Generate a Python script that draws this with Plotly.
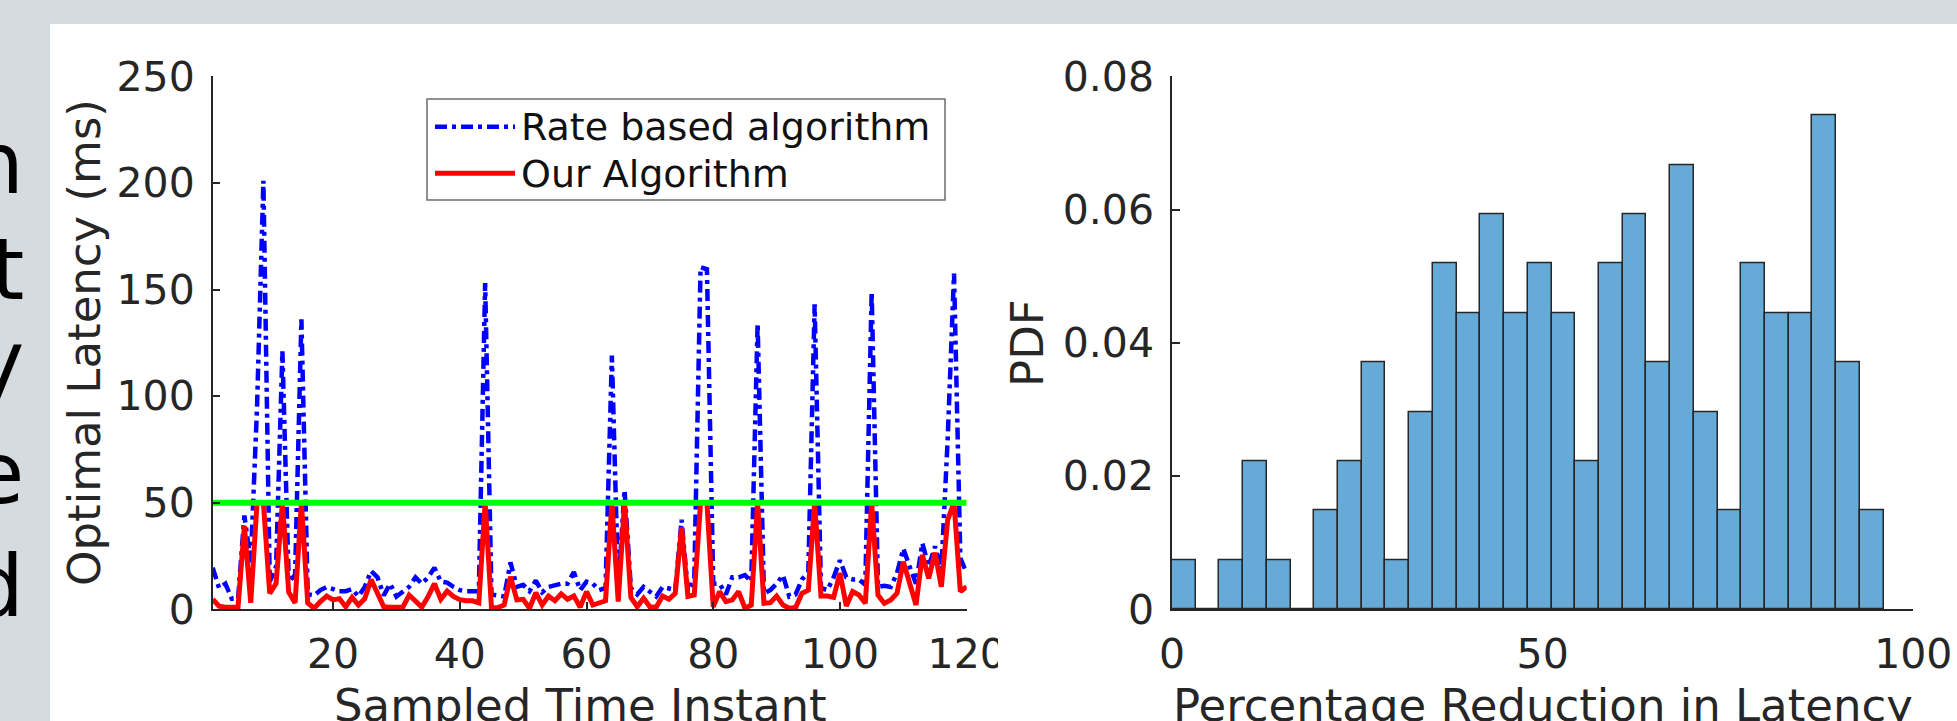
import plotly.graph_objects as go

W, H = 1957, 721

# ---------------- data ----------------
sample_index = list(range(1, 121))

rate_based = [
    19.5, 10, 12, 5, 5, 44, 22, 95, 201, 13,
    20, 121, 13, 16, 136, 7, 6.5, 9, 10.5, 9.5,
    8.5, 8.5, 9.5, 6, 10.5, 18, 15, 6.5, 12, 6,
    8.5, 10.5, 15, 12, 15, 19.5, 13, 12.5, 10.5, 9,
    8.5, 8.5, 8.5, 153, 7, 6.5, 6, 22, 10.5, 11.5,
    8.5, 13.5, 8, 10.5, 11.5, 12, 12, 17.5, 9, 13,
    12, 9, 10, 119, 10, 56, 10, 7, 10.5, 8.5,
    6, 10.5, 10, 9, 42, 8.5, 14, 160.5, 159.5, 12,
    12, 7, 15, 15, 16, 13, 134, 7.5, 9, 12,
    16, 6, 7, 14, 17.5, 143, 10, 9, 15, 23,
    15, 14, 14, 11.5, 149, 10.5, 11, 10.5, 17, 28.5,
    20, 12, 31, 20, 29.5, 18.5, 80, 157.5, 24, 17,
]

our_algorithm = [
    4.7, 1.5, 1, 1, 1, 39, 3, 50, 50, 7.5,
    12, 50, 8, 3, 50, 3, 0.5, 3.6, 6.2, 4.4,
    5, 1.2, 5.6, 2, 5, 14, 7.5, 1.2, 1, 1,
    1, 6.7, 3.6, 1, 6, 12, 4.7, 8.5, 6, 4.5,
    4, 4, 3, 50, 0.5, 0.8, 2, 15.3, 4.4, 4.7,
    0.5, 7.8, 2, 6.2, 4, 7.2, 4.7, 6.2, 1, 8.3,
    2, 2.8, 4, 50, 3.6, 50, 5.6, 1.2, 5.2, 1.2,
    1, 6.2, 4.7, 7.5, 38.4, 6, 6.7, 50, 50, 1.2,
    8.3, 3.6, 4.4, 8.3, 0.5, 2, 50, 2.8, 3.1, 6.2,
    2, 0.5, 0.8, 7.5, 9, 50, 6.2, 6.2, 5.6, 17,
    1.5, 8.3, 6.7, 2.8, 50, 6.7, 2.8, 4.4, 7.5, 22.3,
    12.2, 2, 25.5, 14.5, 26.6, 10.6, 42, 50, 8.3, 10.6,
]

threshold_x = [1, 120]
threshold_y = [50, 50]

bin_starts = [0, 3.2, 6.4, 9.6, 12.8, 16, 19.2, 22.4, 25.6, 28.8,
              32, 35.2, 38.4, 41.6, 44.8, 48, 51.2, 54.4, 57.6, 60.8,
              64, 67.2, 70.4, 73.6, 76.8, 80, 83.2, 86.4, 89.6, 92.8]
bin_width = 3.2
pdf_values = [0.0074, 0, 0.0074, 0.0222, 0.0074, 0, 0.0148, 0.0222, 0.0370, 0.0074,
              0.0296, 0.0519, 0.0444, 0.0593, 0.0444, 0.0519, 0.0444, 0.0222, 0.0519, 0.0593,
              0.0370, 0.0667, 0.0296, 0.0148, 0.0519, 0.0444, 0.0444, 0.0741, 0.0370, 0.0148]

left_xticks = [20, 40, 60, 80, 100, 120]
left_yticks = [0, 50, 100, 150, 200, 250]
right_xticks = [0, 50, 100]
right_yticks = [0, 0.02, 0.04, 0.06, 0.08]
right_yticklabels = ["0", "0.02", "0.04", "0.06", "0.08"]
side_letters = ["n", "t", "y", "e", "d"]

# ---------------- helpers ----------------
def px(x):
    return x / W

def py(y):
    return 1 - y / H

AX = "#262626"
FONT = "DejaVu Sans"

fig = go.Figure()

fig.add_trace(go.Scatter(x=sample_index, y=rate_based, mode="lines",
                         line=dict(color="#0000FF", width=4.5, dash="12px,5px,4px,5px"),
                         name="Rate based algorithm", xaxis="x", yaxis="y"))
fig.add_trace(go.Scatter(x=sample_index, y=our_algorithm, mode="lines",
                         line=dict(color="#FF0000", width=5),
                         name="Our Algorithm", xaxis="x", yaxis="y"))
fig.add_trace(go.Scatter(x=threshold_x, y=threshold_y, mode="lines",
                         line=dict(color="#00FF00", width=6),
                         name="Threshold", xaxis="x", yaxis="y"))

fig.add_trace(go.Bar(x=bin_starts, y=pdf_values, width=bin_width, offset=0,
                     marker=dict(color="#66AAD7", line=dict(color=AX, width=1.5)),
                     name="PDF", xaxis="x2", yaxis="y2"))

common = dict(showline=True, linecolor=AX, linewidth=1.5, ticks="inside", ticklen=8,
              tickwidth=1.5, tickcolor=AX, showgrid=False, zeroline=False, automargin=False,
              tickfont=dict(size=41, family=FONT, color=AX))

ydom = [py(609.3), py(76.3)]

fig.update_layout(
    template="none",
    width=W, height=H, autosize=False,
    margin=dict(l=0, r=0, t=0, b=0, pad=0, autoexpand=False),
    paper_bgcolor="#D5DBDE", plot_bgcolor="rgba(0,0,0,0)",
    showlegend=False, bargap=0,
    font=dict(family=FONT, color=AX),
    xaxis=dict(domain=[px(212.7), px(966.7)], range=[1, 120], tickvals=left_xticks,
               anchor="y", ticklabelstandoff=8, **common),
    yaxis=dict(domain=ydom, range=[0, 250], tickvals=left_yticks,
               anchor="x", ticklabelstandoff=8, **common),
    xaxis2=dict(domain=[px(1172), px(1913.3)], range=[0, 100], tickvals=right_xticks,
                anchor="y2", ticklabelstandoff=8, layer="below traces", **common),
    yaxis2=dict(domain=ydom, range=[0, 0.08], tickvals=right_yticks,
                ticktext=right_yticklabels, anchor="x2", ticklabelstandoff=8, **common),
)

shapes = [
    # white page panel
    dict(type="rect", xref="paper", yref="paper", x0=px(50), x1=1.01, y0=-0.01, y1=py(24),
         fillcolor="white", line=dict(width=0), layer="below"),
    # legend box
    dict(type="rect", xref="paper", yref="paper", x0=px(427), x1=px(945), y0=py(200), y1=py(99),
         fillcolor="white", line=dict(color="#6e6e6e", width=1.5), layer="above"),
    dict(type="line", xref="paper", yref="paper", x0=px(435), x1=px(515), y0=py(126.7), y1=py(126.7),
         line=dict(color="#0000FF", width=4.5, dash="12px,5px,4px,5px"), layer="above"),
    dict(type="line", xref="paper", yref="paper", x0=px(435), x1=px(515), y0=py(173.3), y1=py(173.3),
         line=dict(color="#FF0000", width=5), layer="above"),
    # crop of the left image (cuts the last digit of "120")
    dict(type="rect", xref="paper", yref="paper", x0=px(998), x1=px(1014), y0=py(672), y1=py(622),
         fillcolor="white", line=dict(width=0), layer="above"),
]
fig.update_layout(shapes=shapes)

ann = []
ann.append(dict(text="Rate based algorithm", x=px(519), y=py(127), xref="paper", yref="paper",
                xanchor="left", yanchor="middle", showarrow=False,
                font=dict(size=38, family=FONT, color="#111111")))
ann.append(dict(text="Our Algorithm", x=px(519), y=py(174), xref="paper", yref="paper",
                xanchor="left", yanchor="middle", showarrow=False,
                font=dict(size=38, family=FONT, color="#111111")))
# axis titles
ann.append(dict(text="Optimal Latency (ms)", x=px(84), y=py(343), xref="paper", yref="paper",
                textangle=-90, xanchor="center", yanchor="middle", showarrow=False,
                font=dict(size=45, family=FONT, color=AX)))
ann.append(dict(text="Sampled Time Instant", x=px(580), y=py(705.4), xref="paper", yref="paper",
                xanchor="center", yanchor="middle", showarrow=False,
                font=dict(size=45, family=FONT, color=AX)))
ann.append(dict(text="PDF", x=px(1027), y=py(343), xref="paper", yref="paper",
                textangle=-90, xanchor="center", yanchor="middle", showarrow=False,
                font=dict(size=45, family=FONT, color=AX)))
ann.append(dict(text="Percentage Reduction in Latency", x=px(1542.5), y=py(705.4), xref="paper", yref="paper",
                xanchor="center", yanchor="middle", showarrow=False,
                font=dict(size=45, family=FONT, color=AX)))
# cut-off slide text at the left edge
for letter, base in zip(side_letters, [193, 299, 391, 503, 616]):
    ann.append(dict(text=letter, x=px(26), y=py(base - 29.4), xref="paper", yref="paper",
                    xanchor="right", yanchor="middle", showarrow=False,
                    font=dict(size=85, family=FONT, color="#000000")))
fig.update_layout(annotations=ann)

fig.write_html("out.html",
               config={"displayModeBar": False},
               post_script="document.body.style.margin='0';document.body.style.overflow='hidden';")
